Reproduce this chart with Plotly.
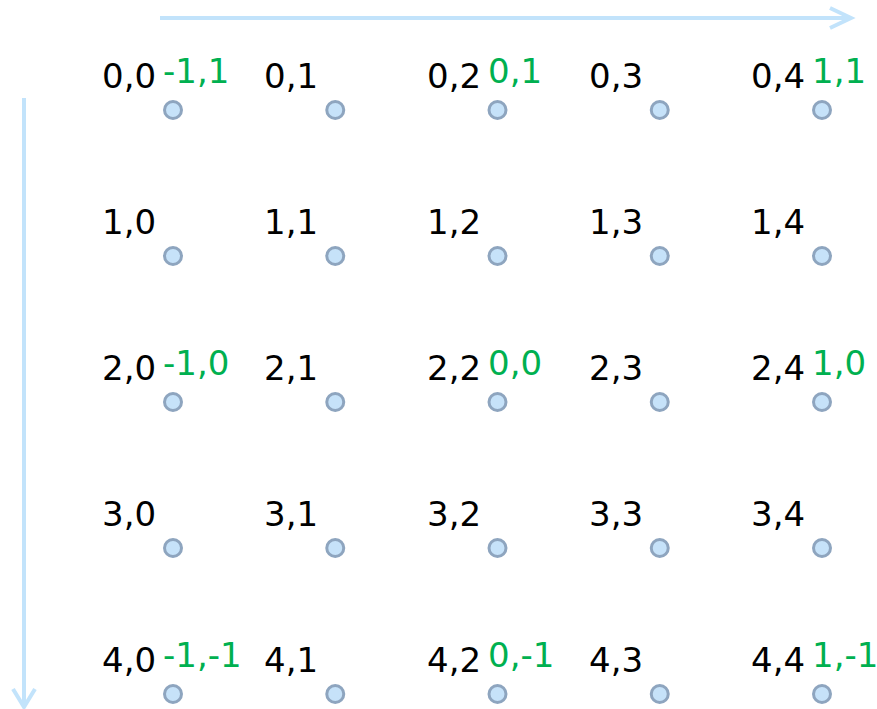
import plotly.graph_objects as go

# Data: grid of (row, col) points
rows = [0, 1, 2, 3, 4]
cols = [0, 1, 2, 3, 4]
# green direction labels at selected grid points
dir_rows = [0, 0, 0, 2, 2, 2, 4, 4, 4]
dir_cols = [0, 2, 4, 0, 2, 4, 0, 2, 4]
dir_labels = ["-1,1", "0,1", "1,1", "-1,0", "0,0", "1,0", "-1,-1", "0,-1", "1,-1"]

W, H = 877, 709
FONT = "DejaVu Sans"
GREEN = "#00b050"
DOT_FILL = "#c6e2f9"
DOT_LINE = "#8ea5bf"
ARROW = "#c2e3fb"

px_x = 162.25
px_y = 146.0
x0 = -173 / px_x
y0 = -110 / px_y
xr = [x0, x0 + W / px_x]
yr = [y0 + H / px_y, y0]

pts_x = [c for r in rows for c in cols]
pts_y = [r for r in rows for c in cols]
labels = [f"{r},{c}" for r in rows for c in cols]

fig = go.Figure()
fig.add_trace(go.Scatter(
    x=pts_x, y=pts_y, mode="markers",
    marker=dict(size=17, color=DOT_FILL, line=dict(color=DOT_LINE, width=3)),
    hoverinfo="skip", showlegend=False,
))

annotations = []
for x, y, t in zip(pts_x, pts_y, labels):
    annotations.append(dict(x=x, y=y, text=t, showarrow=False,
                            xanchor="center", yanchor="middle",
                            xshift=-44, yshift=34,
                            font=dict(family=FONT, size=34, color="black")))
for x, y, t in zip(dir_cols, dir_rows, dir_labels):
    annotations.append(dict(x=x, y=y, text=t, showarrow=False,
                            xanchor="left", yanchor="middle",
                            xshift=-12, yshift=39,
                            font=dict(family=FONT, size=34, color=GREEN)))

def P(px, py):
    return f"{px / W:.5f},{1 - py / H:.5f}"

shapes = [
    # horizontal arrow
    dict(type="path", xref="paper", yref="paper",
         path=f"M{P(160, 18)} L{P(850, 18)} M{P(830, 8)} L{P(851, 18)} L{P(830, 28)}",
         line=dict(color=ARROW, width=4)),
    # vertical arrow
    dict(type="path", xref="paper", yref="paper",
         path=f"M{P(24, 98)} L{P(24, 705)} M{P(13, 689)} L{P(24, 707)} L{P(35, 689)}",
         line=dict(color=ARROW, width=4)),
]

fig.update_layout(
    width=W, height=H,
    margin=dict(l=0, r=0, t=0, b=0),
    paper_bgcolor="white", plot_bgcolor="white",
    xaxis=dict(range=xr, visible=False, fixedrange=True),
    yaxis=dict(range=yr, visible=False, fixedrange=True),
    annotations=annotations,
    shapes=shapes,
)

fig.write_html("out.html", config=dict(displayModeBar=False),
               post_script="document.body.style.margin='0';document.body.style.overflow='hidden';")
